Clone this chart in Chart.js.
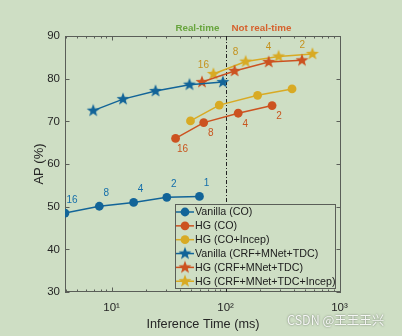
<!DOCTYPE html>
<html>
<head>
<meta charset="utf-8">
<script src="https://cdn.jsdelivr.net/npm/chart.js@4.4.1/dist/chart.umd.min.js"></script>
<style>
  body { margin: 0; background: #cedec4; }
  canvas { display: block; }
</style>
</head>
<body>
<canvas id="apChart" width="402" height="336"></canvas>
<script>
// inference time (ms) / AP (%)
const vanillaCoTime = [3.9, 7.8, 15.6, 30.5, 59];
const vanillaCoAP = [48.5, 50.1, 51.0, 52.2, 52.4];
const hgCoTime = [36.4, 64.3, 129, 256];
const hgCoAP = [66.0, 69.7, 71.9, 73.7];
const hgCoIncepTime = [49.2, 88, 191, 383];
const hgCoIncepAP = [70.1, 73.8, 76.1, 77.6];
const vanillaCrfTime = [6.9, 12.6, 24.3, 48.2, 94.7];
const vanillaCrfAP = [72.5, 75.2, 77.1, 78.6, 79.2];
const hgCrfTime = [62.1, 120, 239, 468];
const hgCrfAP = [79.2, 81.8, 83.9, 84.3];
const hgCrfIncepTime = [78.2, 150, 292, 578];
const hgCrfIncepAP = [81.1, 84.0, 85.2, 85.8];

const vanillaCoBatch = ['16', '8', '4', '2', '1'];
const hgCoBatch = ['16', '8', '4', '2'];
const hgCrfIncepBatch = ['16', '8', '4', '2'];

const xMajorTicks = [10, 100, 1000];
const xTickLabels = ['10\u00b9', '10\u00b2', '10\u00b3'];
const realTimeLimit = 100;

const BLUE = 'rgb(18,100,152)';
const RED = 'rgb(204,82,32)';
const YELLOW = 'rgb(216,170,36)';
const BG = '#cedec4';

function starCanvas(color, r) {
  const c = document.createElement('canvas');
  const s = Math.ceil(r * 2) + 2;
  c.width = c.height = s;
  const g = c.getContext('2d');
  g.beginPath();
  for (let i = 0; i < 10; i++) {
    const rad = i % 2 ? r * 0.42 : r;
    const a = -Math.PI / 2 + i * Math.PI / 5;
    g.lineTo(s / 2 + rad * Math.cos(a), s / 2 + rad * Math.sin(a));
  }
  g.closePath();
  g.fillStyle = color;
  g.fill();
  return c;
}

function pts(xs, ys) {
  return xs.map((x, i) => ({ x: x, y: ys[i] }));
}

function series(label, xs, ys, color, marker, batch, labelColor, offset) {
  const ds = {
    label: label,
    data: pts(xs, ys),
    showLine: true,
    borderColor: color,
    backgroundColor: color,
    borderWidth: 1.5,
    batch: batch,
    labelColor: labelColor,
    labelOffset: offset
  };
  if (marker === 'star') {
    ds.pointStyle = starCanvas(color, 6.8);
    ds.pointRadius = 6.8;
  } else {
    ds.pointStyle = 'circle';
    ds.pointRadius = 4.4;
    ds.pointBorderWidth = 0;
  }
  return ds;
}

const datasets = [
  series('Vanilla (CO)', vanillaCoTime, vanillaCoAP, BLUE, 'circle', vanillaCoBatch, 'rgb(20,110,170)', [7, -13]),
  series('HG (CO)', hgCoTime, hgCoAP, RED, 'circle', hgCoBatch, 'rgb(200,85,30)', [7, 11]),
  series('HG (CO+Incep)', hgCoIncepTime, hgCoIncepAP, YELLOW, 'circle'),
  series('Vanilla (CRF+MNet+TDC)', vanillaCrfTime, vanillaCrfAP, BLUE, 'star'),
  series('HG (CRF+MNet+TDC)', hgCrfTime, hgCrfAP, RED, 'star'),
  series('HG (CRF+MNet+TDC+Incep)', hgCrfIncepTime, hgCrfIncepAP, YELLOW, 'star', hgCrfIncepBatch, 'rgb(196,146,30)', [-10, -9])
];

// frame with inward ticks, like a matlab box
const framePlugin = {
  id: 'frame',
  beforeDatasetsDraw(chart) {
    const { ctx, chartArea: a, scales } = chart;
    const xs = scales.x, ys = scales.y;
    ctx.save();
    ctx.strokeStyle = '#5a5e58';
    ctx.lineWidth = 1;
    ctx.strokeRect(a.left + 0.5, a.top + 0.5, a.right - a.left - 1, a.bottom - a.top - 1);
    ctx.beginPath();
    for (let d = 1; d <= 1000; d *= 10) {
      for (let m = 1; m < 10; m++) {
        const v = d * m;
        if (v < xs.min || v > xs.max) continue;
        const px = Math.round(xs.getPixelForValue(v)) + 0.5;
        const len = m === 1 ? 4.5 : 2.5;
        ctx.moveTo(px, a.bottom); ctx.lineTo(px, a.bottom - len);
        ctx.moveTo(px, a.top); ctx.lineTo(px, a.top + len);
      }
    }
    for (let v = 30; v <= 90; v += 10) {
      const py = Math.round(ys.getPixelForValue(v)) + 0.5;
      ctx.moveTo(a.left, py); ctx.lineTo(a.left + 4.5, py);
      ctx.moveTo(a.right, py); ctx.lineTo(a.right - 4.5, py);
    }
    ctx.stroke();

    // real-time boundary
    const lx = Math.round(xs.getPixelForValue(realTimeLimit)) + 0.5;
    ctx.strokeStyle = '#222';
    ctx.setLineDash([4, 2, 1, 2]);
    ctx.beginPath();
    ctx.moveTo(lx, a.top);
    ctx.lineTo(lx, a.bottom);
    ctx.stroke();
    ctx.setLineDash([]);

    ctx.font = 'bold 9.8px "Liberation Sans", Arial, sans-serif';
    ctx.textBaseline = 'middle';
    ctx.textAlign = 'right';
    ctx.fillStyle = 'rgb(104,165,62)';
    ctx.fillText('Real-time', lx - 7, a.top - 8);
    ctx.textAlign = 'left';
    ctx.fillStyle = 'rgb(214,98,46)';
    ctx.fillText('Not real-time', lx + 5, a.top - 8);
    ctx.restore();
  }
};

const labelPlugin = {
  id: 'batchLabels',
  afterDatasetsDraw(chart) {
    const ctx = chart.ctx;
    ctx.save();
    ctx.font = '10px "Liberation Sans", Arial, sans-serif';
    ctx.textAlign = 'center';
    ctx.textBaseline = 'middle';
    chart.data.datasets.forEach((ds, i) => {
      if (!ds.batch) return;
      const meta = chart.getDatasetMeta(i);
      ctx.fillStyle = ds.labelColor;
      meta.data.forEach((el, j) => {
        ctx.fillText(ds.batch[j], el.x + ds.labelOffset[0], el.y + ds.labelOffset[1]);
      });
    });
    ctx.restore();
  }
};

const legendPlugin = {
  id: 'boxLegend',
  afterDraw(chart) {
    const ctx = chart.ctx;
    const x0 = 175, y0 = 204, w = 160, h = 84, row = 13.85;
    ctx.save();
    ctx.fillStyle = BG;
    ctx.fillRect(x0, y0, w, h);
    ctx.strokeStyle = '#5a5e58';
    ctx.lineWidth = 1;
    ctx.strokeRect(x0 + 0.5, y0 + 0.5, w, h);
    ctx.font = '10.7px "Liberation Sans", Arial, sans-serif';
    ctx.textBaseline = 'middle';
    ctx.textAlign = 'left';
    chart.data.datasets.forEach((ds, i) => {
      const cy = y0 + 8 + i * row;
      ctx.strokeStyle = ds.borderColor;
      ctx.lineWidth = 1.5;
      ctx.beginPath();
      ctx.moveTo(x0 + 1, cy);
      ctx.lineTo(x0 + 19, cy);
      ctx.stroke();
      if (ds.pointStyle === 'circle') {
        ctx.fillStyle = ds.backgroundColor;
        ctx.beginPath();
        ctx.arc(x0 + 10, cy, ds.pointRadius, 0, Math.PI * 2);
        ctx.fill();
      } else {
        const img = ds.pointStyle;
        ctx.drawImage(img, x0 + 10 - img.width / 2, cy - img.height / 2);
      }
      ctx.fillStyle = '#202020';
      ctx.fillText(ds.label, x0 + 20, cy + 0.5);
    });
    ctx.restore();

    // watermark
    ctx.save();
    ctx.font = '12.5px "Noto Sans CJK SC", "Liberation Sans", sans-serif';
    ctx.textBaseline = 'middle';
    ctx.textAlign = 'left';
    ctx.fillStyle = 'rgba(255,255,255,0.9)';
    ctx.shadowColor = 'rgba(70,80,70,0.9)';
    ctx.shadowBlur = 2;
    ctx.fillText('CSDN @王王王兴', 287, 320);
    ctx.restore();
  }
};

const ctx = document.getElementById('apChart').getContext('2d');
new Chart(ctx, {
  type: 'scatter',
  data: { datasets: datasets },
  options: {
    responsive: false,
    animation: false,
    layout: { padding: { left: 26, top: 36, right: 61, bottom: 0 } },
    scales: {
      x: {
        type: 'logarithmic',
        min: 3.9,
        max: 1030,
        afterBuildTicks: s => { s.ticks = xMajorTicks.map(v => ({ value: v })); },
        afterFit: s => { s.height = 44; },
        grid: { display: false, drawTicks: false },
        border: { display: false },
        ticks: {
          autoSkip: false,
          maxRotation: 0,
          padding: 9,
          color: '#262626',
          font: { family: '"Liberation Sans", Arial, sans-serif', size: 11.5 },
          callback: v => {
            const k = xMajorTicks.indexOf(v);
            return k >= 0 ? xTickLabels[k] : '';
          }
        },
        title: {
          display: true,
          text: 'Inference Time (ms)',
          color: '#262626',
          padding: { top: 0, bottom: 4 },
          font: { family: '"Liberation Sans", Arial, sans-serif', size: 12.7 }
        }
      },
      y: {
        min: 30,
        max: 90,
        afterFit: s => { s.width = 39; },
        grid: { display: false, drawTicks: false },
        border: { display: false },
        ticks: {
          stepSize: 10,
          padding: 5,
          color: '#262626',
          font: { family: '"Liberation Sans", Arial, sans-serif', size: 11.5 }
        },
        title: {
          display: true,
          text: 'AP (%)',
          color: '#262626',
          padding: { top: 6, bottom: 0 },
          font: { family: '"Liberation Sans", Arial, sans-serif', size: 13 }
        }
      }
    },
    plugins: {
      legend: { display: false },
      tooltip: { enabled: false }
    }
  },
  plugins: [framePlugin, labelPlugin, legendPlugin]
});
</script>
</body>
</html>
